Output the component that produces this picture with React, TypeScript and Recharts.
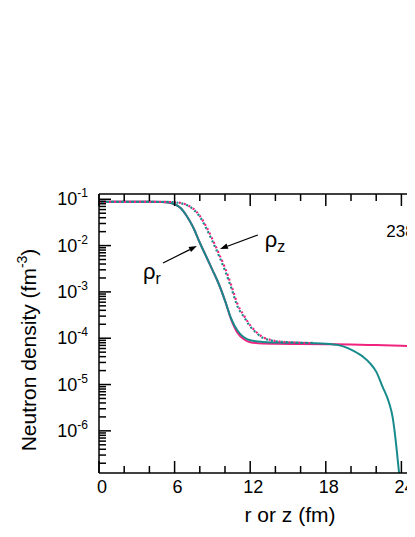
import React from "react";
import {
  LineChart,
  Line,
  XAxis,
  YAxis,
  ReferenceLine,
  ReferenceDot,
  Label,
} from "recharts";

const FONT = '"Liberation Sans", Arial, Helvetica, sans-serif';
const TEAL = "#178a8c";
const PINK = "#f0237f";

// rho_r, teal solid (drops at the box edge)
const rTealX = [0, 1, 2, 3, 4, 5, 5.5, 6, 6.5, 7, 7.5, 8, 8.5, 9, 9.5, 10, 10.5, 11, 11.5, 12, 13, 14, 15, 16, 17, 18, 18.5, 19, 19.5, 20, 20.5, 21, 21.5, 22, 22.5, 23, 23.3, 23.5, 23.7, 23.85];
const rTealY = [0.088, 0.088, 0.088, 0.088, 0.088, 0.087, 0.085, 0.078, 0.064, 0.042, 0.024, 0.0115, 0.0059, 0.003, 0.0015, 0.00065, 0.00026, 0.000145, 0.000105, 0.00009, 0.000083, 0.000081, 0.00008, 0.000079, 0.000078, 0.000076, 0.000074, 0.000071, 0.000065, 0.000057, 0.000048, 0.000039, 0.000029, 0.000019, 0.000009, 0.0000042, 0.000002, 0.0000008, 0.00000025, 0.0000001];

// rho_r, pink solid (gas plateau keeps going)
const rPinkX = [0, 1, 2, 3, 4, 5, 5.5, 6, 6.5, 7, 7.5, 8, 8.5, 9, 9.5, 10, 10.5, 11, 11.5, 12, 13, 14, 16, 18, 20, 22, 24, 26, 28, 30];
const rPinkY = [0.088, 0.088, 0.088, 0.088, 0.088, 0.087, 0.085, 0.078, 0.064, 0.042, 0.024, 0.0115, 0.0059, 0.003, 0.0015, 0.00065, 0.00025, 0.00013, 0.000095, 0.000082, 0.000077, 0.000076, 0.000075, 0.000074, 0.000073, 0.000071, 0.000069, 0.000066, 0.000063, 0.00006];

// rho_z, dotted
const zTealX = [0, 1, 2, 3, 4, 5, 5.5, 6, 6.5, 7, 7.5, 8, 8.5, 9, 9.5, 10, 10.5, 11, 11.5, 12, 12.5, 13, 13.5, 14, 15, 16, 17];
const zTealY = [0.088, 0.088, 0.088, 0.088, 0.088, 0.088, 0.0875, 0.086, 0.082, 0.074, 0.06, 0.042, 0.024, 0.0125, 0.0062, 0.0029, 0.00122, 0.00048, 0.00029, 0.00018, 0.00013, 0.000102, 0.000092, 0.000086, 0.000082, 0.00008, 0.000079];
const zPinkY = [0.088, 0.088, 0.088, 0.088, 0.088, 0.088, 0.0875, 0.086, 0.083, 0.075, 0.062, 0.044, 0.026, 0.0138, 0.0069, 0.0033, 0.00138, 0.00054, 0.00031, 0.00019, 0.000135, 0.000105, 0.000094, 0.000087, 0.000082, 0.00008, 0.000078];

const xTicks = [0, 2, 4, 6, 8, 10, 12, 14, 16, 18, 20, 22, 24, 26, 28, 30];
const xMajor = [0, 6, 12, 18, 24, 30];
const xLabels = [0, 6, 12, 18, 24];
const yDecades = [-7, -6, -5, -4, -3, -2, -1];
const yMinor = [2, 3, 4, 5, 6, 7, 8, 9];
const yDomain = [1.23e-7, 0.13];

const arrowR = [{ x: 5.08, y: 4.2e-3 }, { x: 7.77, y: 9.8e-3 }];
const arrowZ = [{ x: 12.61, y: 0.0169 }, { x: 9.6, y: 8.45e-3 }];
const labelR = { x: 3.49, y: 1.9e-3 };
const labelZ = { x: 13.16, y: 9.3e-3 };
const nucleus = { x: 22.8, y: 0.0154 };

const pts = (xs: number[], ys: number[]) => xs.map((x, i) => ({ x, y: ys[i] }));

const yTicks: number[] = [];
yDecades.forEach((e) => {
  yTicks.push(Math.pow(10, e));
  yMinor.forEach((k) => yTicks.push(k * Math.pow(10, e)));
});
const yTicksIn = yTicks.filter((v) => v >= yDomain[0] && v <= yDomain[1]);

const YTick = ({ x, y, payload }: any) => {
  const v = payload.value;
  const e = Math.round(Math.log10(v));
  const major = Math.abs(v - Math.pow(10, e)) / v < 1e-6;
  return (
    <g>
      <line x1={x} x2={x + (major ? 12 : 7)} y1={y} y2={y} stroke="#000" strokeWidth={1.5} />
      {major && (
        <text x={x - 11} y={y + 6} textAnchor="end" fontSize={18} fontFamily={FONT} fill="#000">
          10
          <tspan dy={-8} fontSize={12}>{e}</tspan>
        </text>
      )}
    </g>
  );
};

const XTick = ({ x, y, payload }: any) => {
  const major = xMajor.includes(payload.value);
  return (
    <g>
      <line x1={x} x2={x} y1={y} y2={y - (major ? 12 : 7)} stroke="#000" strokeWidth={1.5} />
      {xLabels.includes(payload.value) && (
        <text x={x + 3} y={y + 20} textAnchor="middle" fontSize={18} fontFamily={FONT} fill="#000">
          {payload.value}
        </text>
      )}
    </g>
  );
};

const TopTick = ({ x, y, payload }: any) => {
  const major = xMajor.includes(payload.value);
  return <line x1={x} x2={x} y1={y} y2={y + (major ? 12 : 7)} stroke="#000" strokeWidth={1.5} />;
};

const arrowShape = (p: any) => {
  const { x1, y1, x2, y2 } = p;
  const a = Math.atan2(y2 - y1, x2 - x1);
  const L = 8;
  const W = 2.8;
  const bx = x2 - L * Math.cos(a);
  const by = y2 - L * Math.sin(a);
  const nx = -Math.sin(a) * W;
  const ny = Math.cos(a) * W;
  return (
    <g>
      <line x1={x1} y1={y1} x2={bx} y2={by} stroke="#000" strokeWidth={1.2} />
      <polygon points={`${x2},${y2} ${bx + nx},${by + ny} ${bx - nx},${by - ny}`} fill="#000" />
    </g>
  );
};

const rhoText = (sub: string) => (p: any) => (
  <text x={p.cx} y={p.cy} fontSize={22} fontFamily={FONT} fill="#000">
    ρ<tspan fontSize={16} dy={5}>{sub}</tspan>
  </text>
);

const nucleusText = (p: any) => (
  <text x={p.cx} y={p.cy} fontSize={17} fontFamily={FONT} fill="#000">
    238
  </text>
);

export default function App() {
  return (
    <>
      <style>{`html, body { overflow: hidden; }`}</style>
      <div style={{ width: 420, height: 521, overflow: "hidden" }}>
        <LineChart width={490} height={521} margin={{ top: 185, right: 21, bottom: 55, left: 90 }}>
          <XAxis
            dataKey="x"
            type="number"
            domain={[0, 30]}
            ticks={xTicks}
            allowDataOverflow
            height={1}
            tickSize={0}
            tickMargin={0}
            tick={<XTick />}
            interval={0}
            axisLine={{ stroke: "#000", strokeWidth: 1.5 }}
          >
            <Label
              content={({ viewBox }: any) => (
                <text
                  x={viewBox.x + viewBox.width / 2 + 2}
                  y={viewBox.y + 49}
                  textAnchor="middle"
                  fontSize={21}
                  fontFamily={FONT}
                  fill="#000"
                >
                  r or z (fm)
                </text>
              )}
            />
          </XAxis>
          <XAxis
            xAxisId="top"
            orientation="top"
            dataKey="x"
            type="number"
            domain={[0, 30]}
            ticks={xTicks}
            allowDataOverflow
            height={1}
            tickSize={0}
            tickMargin={0}
            tick={<TopTick />}
            interval={0}
            axisLine={{ stroke: "#000", strokeWidth: 1.5 }}
          />
          <YAxis
            type="number"
            scale="log"
            domain={yDomain}
            ticks={yTicksIn}
            allowDataOverflow
            width={1}
            tickSize={0}
            tickMargin={0}
            tick={<YTick />}
            interval={0}
            axisLine={{ stroke: "#000", strokeWidth: 1.5 }}
          >
            <Label
              content={({ viewBox }: any) => {
                const cx = viewBox.x + viewBox.width - 63;
                const cy = viewBox.y + viewBox.height / 2 + 16.5;
                return (
                  <text
                    x={cx}
                    y={cy}
                    transform={`rotate(-90 ${cx} ${cy})`}
                    textAnchor="middle"
                    fontSize={21}
                    fontFamily={FONT}
                    fill="#000"
                  >
                    Neutron density (fm
                    <tspan dy={-9} fontSize={14}>-3</tspan>
                    <tspan dy={9}>)</tspan>
                  </text>
                );
              }}
            />
          </YAxis>

          <Line data={pts(rPinkX, rPinkY)} dataKey="y" type="monotone" stroke={PINK} strokeWidth={2} dot={false} activeDot={false} isAnimationActive={false} />
          <Line data={pts(rTealX, rTealY)} dataKey="y" type="monotone" stroke={TEAL} strokeWidth={2} dot={false} activeDot={false} isAnimationActive={false} />
          <Line data={pts(zTealX, zPinkY)} dataKey="y" type="monotone" stroke={PINK} strokeWidth={2.2} strokeDasharray="2 3" dot={false} activeDot={false} isAnimationActive={false} />
          <Line data={pts(zTealX, zTealY)} dataKey="y" type="monotone" stroke={TEAL} strokeWidth={2.2} strokeDasharray="2 3" strokeDashoffset={2.5} dot={false} activeDot={false} isAnimationActive={false} />

          <ReferenceLine segment={arrowR} shape={arrowShape} />
          <ReferenceLine segment={arrowZ} shape={arrowShape} />
          <ReferenceDot x={labelR.x} y={labelR.y} r={0} shape={rhoText("r")} />
          <ReferenceDot x={labelZ.x} y={labelZ.y} r={0} shape={rhoText("z")} />
          <ReferenceDot x={nucleus.x} y={nucleus.y} r={0} shape={nucleusText} />
        </LineChart>
      </div>
    </>
  );
}
